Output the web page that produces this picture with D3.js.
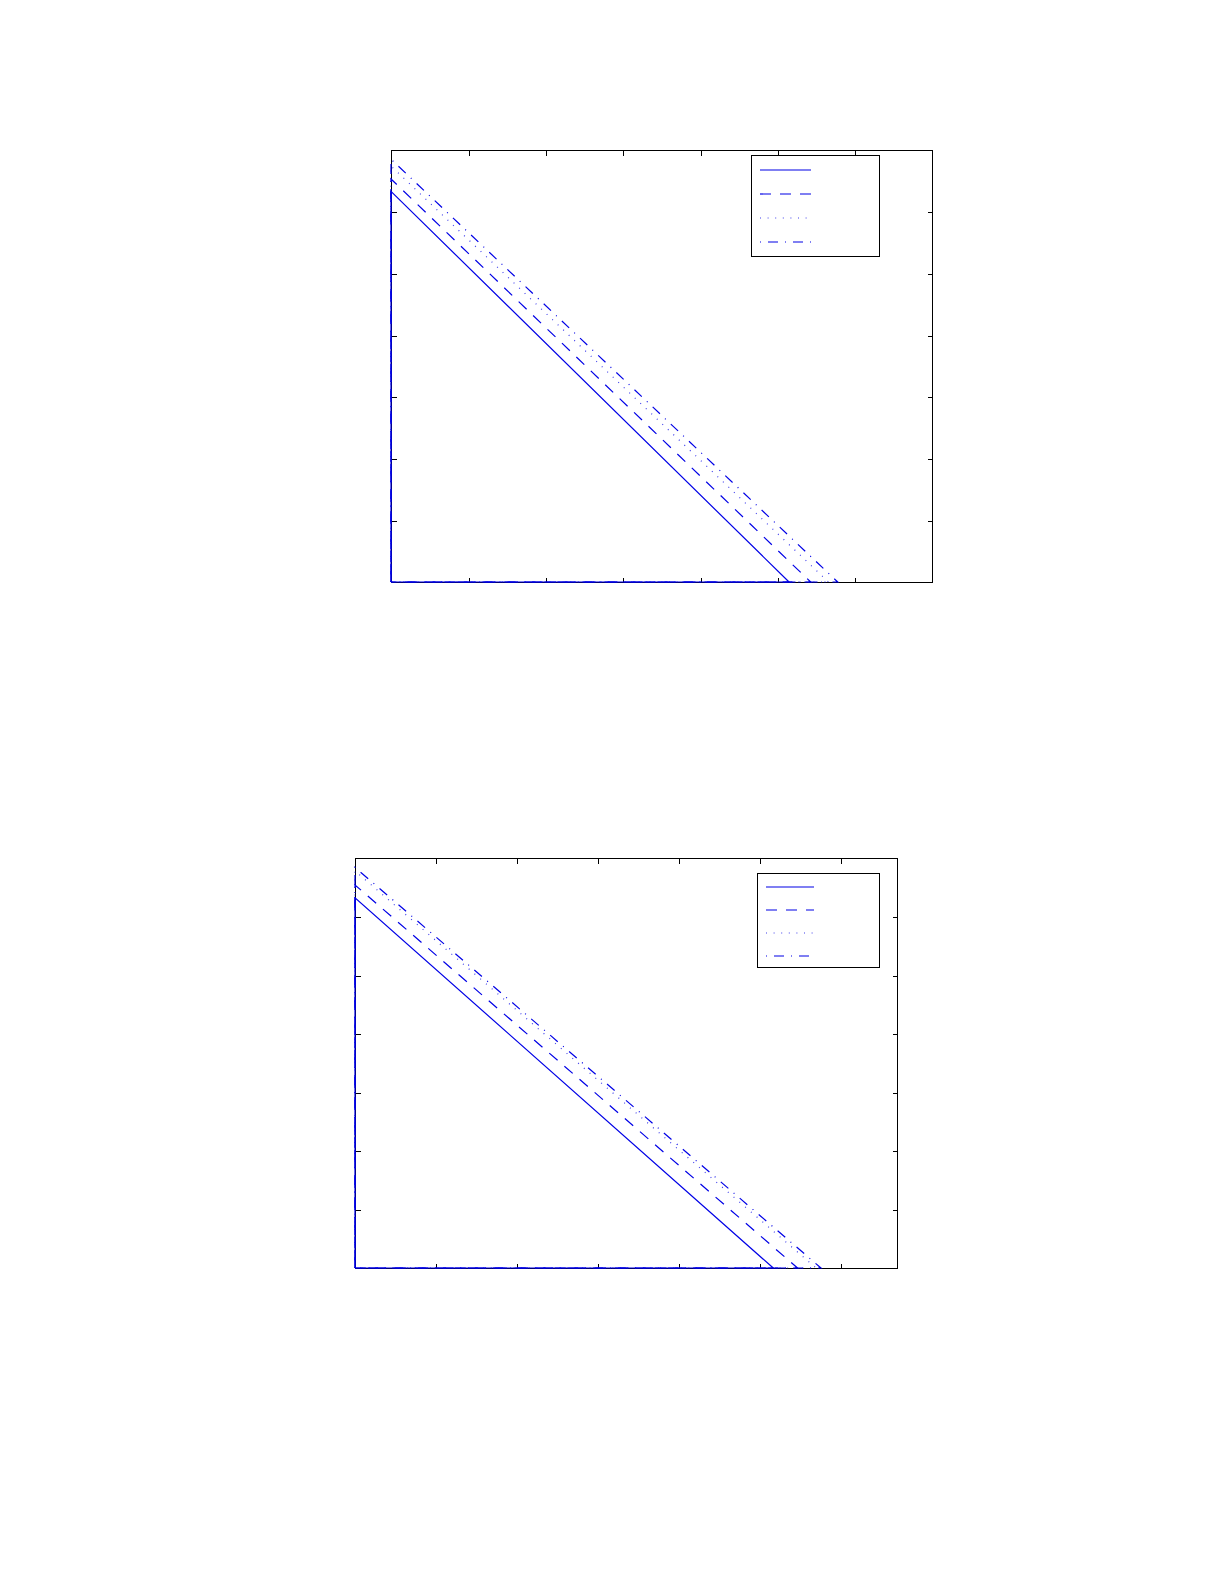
<!DOCTYPE html>
<html>
<head>
<meta charset="utf-8">
<script src="https://cdn.jsdelivr.net/npm/d3@7/dist/d3.min.js"></script>
<style>
  html, body { margin: 0; padding: 0; background: #ffffff; }
  svg { display: block; }
</style>
</head>
<body>
<svg id="chart" width="1225" height="1585"></svg>
<script>
// ---- data ----
const seriesNames = ["s1", "s2", "s3", "s4"];
const seriesDash = ["none", "11,9", "1,6.6", "1,7,10,7"];

// chart 1
const chart1XTicks = [0, 1, 2, 3, 4, 5, 6, 7];
const chart1YTicks = [0, 1, 2, 3, 4, 5, 6, 7];
const chart1Intercept = [6.33, 6.53, 6.74, 6.85];   // value at x = 0
const chart1Zero = [5.15, 5.43, 5.66, 5.78];        // x where the line reaches 0

// chart 2
const chart2XTicks = [0, 1, 2, 3, 4, 5, 6];
const chart2YTicks = [0, 1, 2, 3, 4, 5, 6, 7];
const chart2Intercept = [6.32, 6.54, 6.78, 6.84];
const chart2Zero = [5.17, 5.47, 5.70, 5.76];

const svg = d3.select("#chart");

function drawChart(cfg) {
  const { left, top, width, height, xMax, yMax, xTicks, yTicks, intercepts, zeros, legend } = cfg;
  const x = d3.scaleLinear().domain([0, xMax]).range([left, left + width]);
  const y = d3.scaleLinear().domain([0, yMax]).range([top + height, top]);
  const g = svg.append("g");

  // frame
  g.append("rect")
    .attr("x", left + 0.5).attr("y", top + 0.5)
    .attr("width", width).attr("height", height)
    .attr("fill", "none").attr("stroke", "#000").attr("stroke-width", 1)
    .attr("shape-rendering", "crispEdges");

  const xt = xTicks.filter(v => v > 0 && v < xMax);
  const yt = yTicks.filter(v => v > 0 && v < yMax);

  const styleAxis = sel => {
    sel.select(".domain").remove();
    sel.selectAll("line").attr("stroke", "#000").attr("shape-rendering", "crispEdges");
    sel.selectAll("text").remove();
  };

  g.append("g").attr("transform", `translate(0.5,${top + height + 0.5})`)
    .call(d3.axisBottom(x).tickValues(xt).tickSizeInner(-5).tickSizeOuter(0).tickFormat(""))
    .call(styleAxis);
  g.append("g").attr("transform", `translate(0.5,${top + 0.5})`)
    .call(d3.axisTop(x).tickValues(xt).tickSizeInner(-5).tickSizeOuter(0).tickFormat(""))
    .call(styleAxis);
  g.append("g").attr("transform", `translate(${left + 0.5},0.5)`)
    .call(d3.axisLeft(y).tickValues(yt).tickSizeInner(-5).tickSizeOuter(0).tickFormat(""))
    .call(styleAxis);
  g.append("g").attr("transform", `translate(${left + width + 0.5},0.5)`)
    .call(d3.axisRight(y).tickValues(yt).tickSizeInner(-5).tickSizeOuter(0).tickFormat(""))
    .call(styleAxis);

  // series
  const line = d3.line().x(d => x(d[0])).y(d => y(d[1]));
  seriesNames.forEach((name, i) => {
    const pts = [[0, 0], [0, intercepts[i]], [zeros[i], 0], [0, 0]];
    g.append("path")
      .datum(pts)
      .attr("d", line)
      .attr("fill", "none")
      .attr("stroke", "#0000e6")
      .attr("stroke-opacity", i === 2 ? 0.75 : 1)
      .attr("stroke-width", 1.2)
      .attr("stroke-dasharray", seriesDash[i]);
  });

  // legend
  const lg = g.append("g");
  lg.append("rect")
    .attr("x", legend.x + 0.5).attr("y", legend.y + 0.5)
    .attr("width", legend.w).attr("height", legend.h)
    .attr("fill", "#fff").attr("stroke", "#000")
    .attr("shape-rendering", "crispEdges");
  seriesNames.forEach((name, i) => {
    const ly = legend.y + legend.first + i * legend.step;
    lg.append("line")
      .attr("x1", legend.x + legend.lx1).attr("x2", legend.x + legend.lx2)
      .attr("y1", ly).attr("y2", ly)
      .attr("stroke", "#0000e6")
      .attr("stroke-opacity", i === 2 ? 0.75 : 1)
      .attr("stroke-width", 1.2)
      .attr("stroke-dasharray", seriesDash[i]);
  });
}

drawChart({
  left: 391, top: 150, width: 541, height: 432,
  xMax: 7, yMax: 7,
  xTicks: chart1XTicks, yTicks: chart1YTicks,
  intercepts: chart1Intercept, zeros: chart1Zero,
  legend: { x: 751, y: 155, w: 128, h: 101, first: 15, step: 24, lx1: 9, lx2: 60 }
});

drawChart({
  left: 355, top: 858, width: 542, height: 410,
  xMax: 6.7, yMax: 7,
  xTicks: chart2XTicks, yTicks: chart2YTicks,
  intercepts: chart2Intercept, zeros: chart2Zero,
  legend: { x: 757, y: 873, w: 122, h: 94, first: 14, step: 23, lx1: 9, lx2: 57 }
});
</script>
</body>
</html>
